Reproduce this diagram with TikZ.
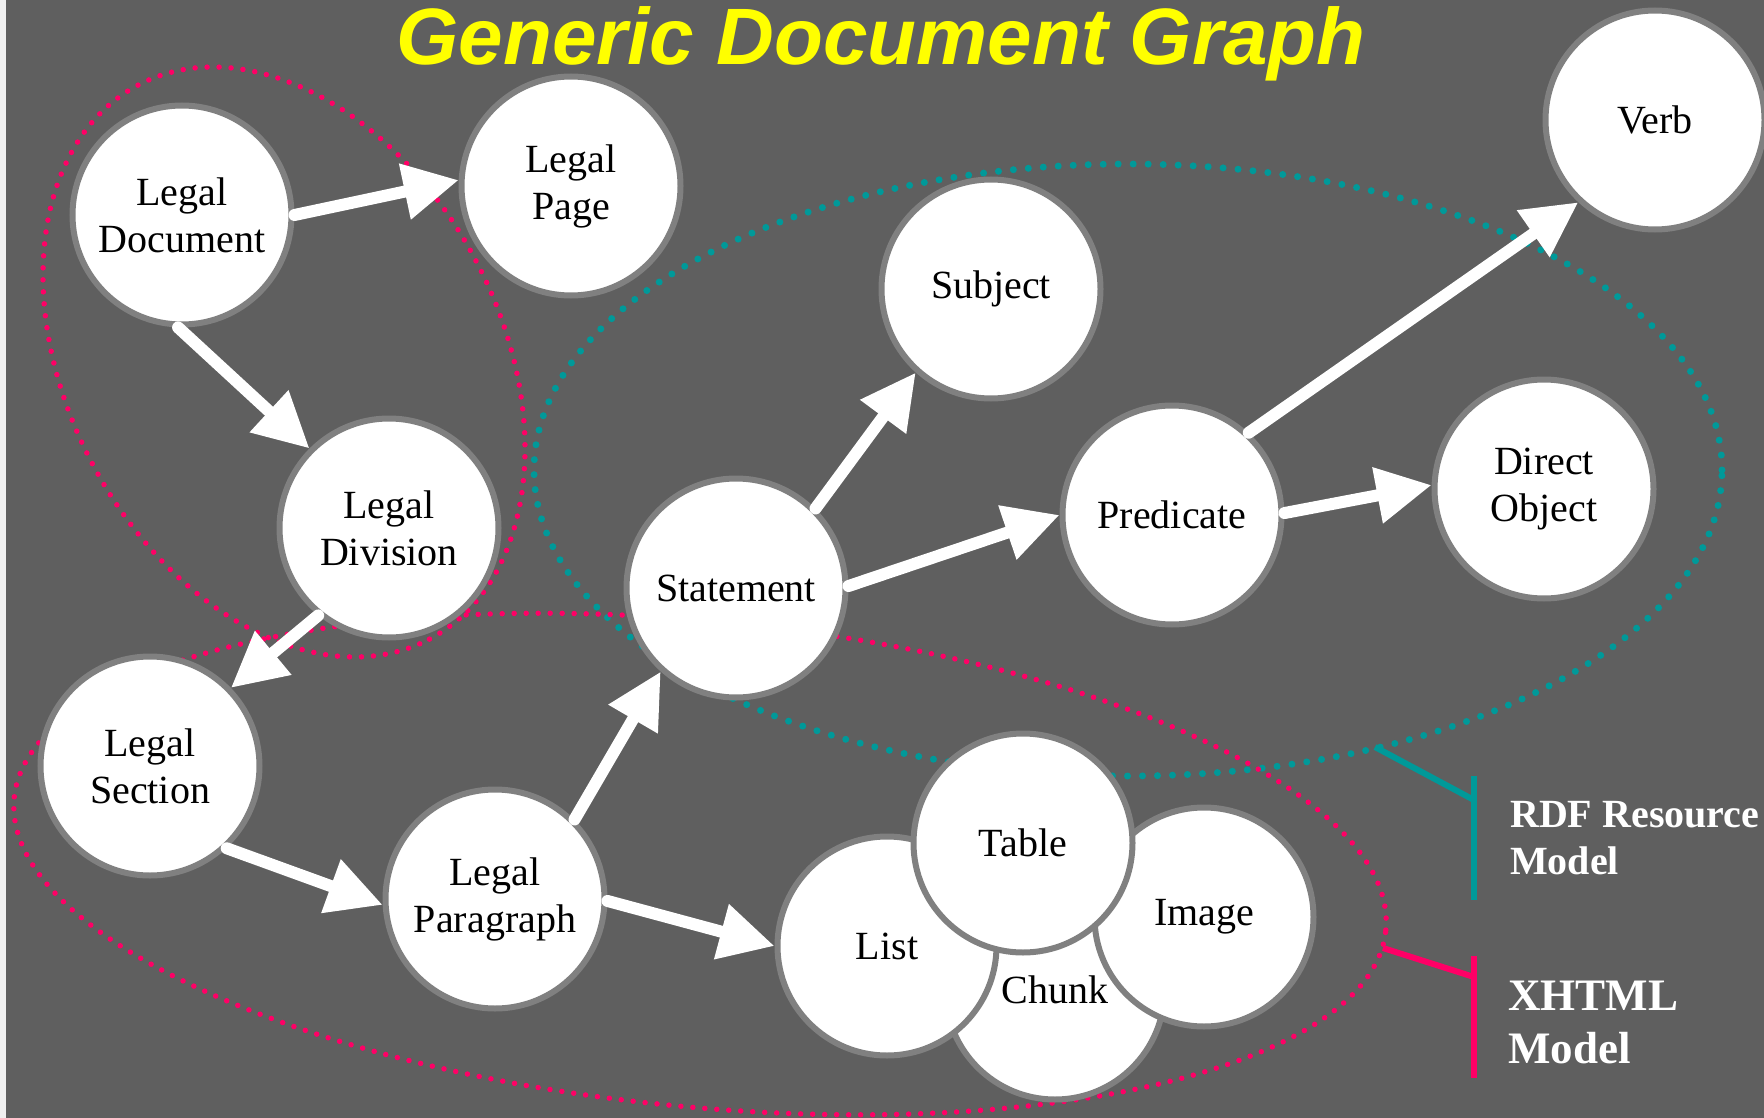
\documentclass[tikz,border=0pt]{standalone}
\usepackage{fontspec}
\setmainfont{Liberation Serif}
\newfontfamily\titlefont{Liberation Sans}
\usetikzlibrary{arrows.meta}

\definecolor{bg}{HTML}{5F5F5F}
\definecolor{rim}{HTML}{808080}
\definecolor{xred}{HTML}{FF0066}
\definecolor{xteal}{HTML}{009999}
\definecolor{titleyellow}{HTML}{FFFF00}

\tikzset{
  ball/.style={circle, fill=white, draw=rim, line width=6pt, minimum size=219pt,
    inner sep=0pt, align=center, font=\fontsize{40}{47}\selectfont, text=black},
  flow/.style={draw=white, line width=12pt, line cap=round,
    -{Triangle[length=55pt,width=54pt,fill=white]}},
  reddots/.style={draw=xred, line width=5.5pt, line cap=round, dash pattern=on 0pt off 12pt},
  tealdots/.style={draw=xteal, line width=7pt, line cap=round, dash pattern=on 0pt off 15pt},
  tick/.style={line width=6pt},
  legend/.style={anchor=base west, inner sep=0pt, text=white, align=left,
    font=\bfseries\fontsize{40}{47}\selectfont},
}

\begin{document}
\begin{tikzpicture}[x=1pt, y=-1pt]
  % canvas
  \fill[bg] (0,0) rectangle (1764,1118);
  \fill[white!94!black] (0,0) rectangle (6,1118);
  \useasboundingbox (0,0) rectangle (1764,1118);

  % title
  \node[anchor=base, inner sep=0pt, text=titleyellow,
        font=\titlefont\bfseries\itshape\fontsize{80}{92}\selectfont]
    (title) at (881,65) {Generic Document Graph};

  % model groupings
  \draw[tealdots] (1128,470) ellipse [x radius=594pt, y radius=306pt];
  \draw[reddots, rotate around={-62.3:(284,362)}] (284,362) ellipse [x radius=313pt, y radius=217pt];
  \draw[reddots, rotate around={-5.5:(700,864)}] (700,864) ellipse [x radius=689pt, y radius=243pt];

  % legend brackets
  \coordinate (rdfhook) at (1375,747);
  \coordinate (rdfknee) at (1474,800);
  \coordinate (rdftop) at (1474,776);
  \coordinate (rdfbot) at (1474,900);
  \coordinate (xhook) at (1383,948);
  \coordinate (xknee) at (1474,977);
  \coordinate (xtop) at (1474,956);
  \coordinate (xbot) at (1474,1078);
  \draw[tick, xteal] (rdfhook) -- (rdfknee);
  \draw[tick, xteal] (rdftop) -- (rdfbot);
  \draw[tick, xred] (xhook) -- (xknee);
  \draw[tick, xred] (xtop) -- (xbot);
  % the base anchor of a two-line label sits on its last line
  \node[legend] (rdflabel) at (1510,874) {RDF Resource\\Model};
  \node[legend, font=\bfseries\fontsize{45}{53}\selectfont] (xlabel) at (1508,1063) {XHTML\\Model};

  % document structure
  \node[ball] (ldoc)  at (182,215) {Legal\\Document};
  \node[ball] (lpage) at (571,186) {Legal\\Page};
  \node[ball] (ldiv)  at (389,528) {Legal\\Division};
  \node[ball] (lsec)  at (150,766) {Legal\\Section};
  \node[ball] (lpar)  at (495,899) {Legal\\Paragraph};

  % statement triple
  \node[ball] (stmt) at (736,588)  {Statement};
  \node[ball] (subj) at (991,289)  {Subject};
  \node[ball] (pred) at (1172,515) {Predicate};
  \node[ball] (dobj) at (1544,489) {Direct\\Object};
  \node[ball] (verb) at (1655,120) {Verb};

  % content blocks
  \node[ball] (chunk) at (1055,990) {Chunk};
  \node[ball] (list)  at (887,946)  {List};
  \node[ball] (image) at (1204,917) {Image};
  \node[ball] (table) at (1023,843) {Table};

  % links
  \draw[flow] (ldoc.0)     -- (lpage.177);
  \draw[flow] (ldoc.-92)   -- (ldiv.135);
  \draw[flow] (ldiv.-129)  -- (lsec.44);
  \draw[flow] (lsec.-47)   -- (lpar.183);
  \draw[flow] (lpar.45)    -- (stmt.-132);
  \draw[flow] (lpar.-1)    -- (list.180);
  \draw[flow] (stmt.45)    -- (subj.-132);
  \draw[flow] (stmt.1)     -- (pred.180);
  \draw[flow] (pred.47)    -- (verb.-133);
  \draw[flow] (pred.1)     -- (dobj.178);
\end{tikzpicture}
\end{document}
